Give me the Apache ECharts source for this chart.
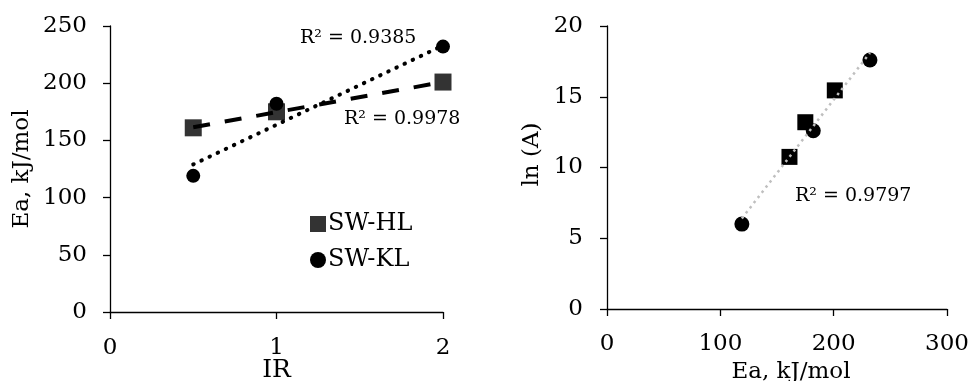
<!DOCTYPE html>
<html>
<head>
<meta charset="utf-8">
<script src="https://cdn.jsdelivr.net/npm/echarts@6/dist/echarts.min.js"></script>
<style>
  html, body { margin: 0; padding: 0; background: #fff; }
  #chart { width: 970px; height: 381px; }
</style>
</head>
<body>
<div id="chart"></div>
<script>
// left panel: Ea vs IR
const irValues = [0.5, 1, 2];
const eaHL = [161, 175, 201];
const eaKL = [119, 182, 232];
// trendline end points
const trendHL = [[0.5, 161.5], [2, 201]];
const trendKL = [[0.5, 129], [2, 233]];

// right panel: ln(A) vs Ea
const lnAHL = [10.75, 13.2, 15.45];
const lnAKL = [6.0, 12.6, 17.6];
const trendAll = [[119, 6.4], [232, 18.1]];

const r2Labels = ['R² = 0.9385', 'R² = 0.9978', 'R² = 0.9797'];

const FONT = 'DejaVu Serif';
const chart = echarts.init(document.getElementById('chart'));

const axisCommon = {
    axisLine: { show: true, lineStyle: { color: '#000', width: 1.3 } },
    axisTick: { show: true, length: 7, lineStyle: { color: '#000', width: 1.3 } },
    splitLine: { show: false },
    axisLabel: { color: '#000', fontFamily: FONT, fontSize: 23 },
    nameTextStyle: { color: '#000', fontFamily: FONT, fontSize: 23 },
    nameLocation: 'middle',
    nameMoveOverlap: false,
};

const option = {
    animation: false,
    textStyle: { fontFamily: FONT },
    grid: [
        { left: 110, top: 26, width: 333, height: 286, outerBoundsMode: 'none', containLabel: false },
        { left: 607, top: 26, width: 340, height: 283, outerBoundsMode: 'none', containLabel: false },
    ],
    xAxis: [
        { ...axisCommon, gridIndex: 0, type: 'value', min: 0, max: 2, interval: 1,
          name: 'IR', nameGap: 46, nameTextStyle: { ...axisCommon.nameTextStyle, fontSize: 25 },
          axisLabel: { ...axisCommon.axisLabel, margin: 25 } },
        { ...axisCommon, gridIndex: 1, type: 'value', min: 0, max: 300, interval: 100,
          name: 'Ea, kJ/mol', nameGap: 52, nameTextStyle: { ...axisCommon.nameTextStyle, padding: [0, 0, 0, 28] },
          axisLabel: { ...axisCommon.axisLabel, margin: 24 } },
    ],
    yAxis: [
        { ...axisCommon, gridIndex: 0, type: 'value', min: 0, max: 250, interval: 50,
          name: 'Ea, kJ/mol', nameGap: 76, axisLabel: { ...axisCommon.axisLabel, margin: 23 } },
        { ...axisCommon, gridIndex: 1, type: 'value', min: 0, max: 20, interval: 5,
          name: 'ln (A)', nameGap: 63, nameTextStyle: { ...axisCommon.nameTextStyle, padding: [0, 0, 0, 26] },
          axisLabel: { ...axisCommon.axisLabel, margin: 24 } },
    ],
    legend: {
        data: [
            { name: 'SW-HL', icon: 'rect', itemStyle: { color: '#333' } },
            { name: 'SW-KL', icon: 'circle', itemStyle: { color: '#000' } },
        ],
        orient: 'vertical',
        left: 305,
        top: 207,
        itemWidth: 16,
        itemHeight: 16,
        itemGap: 12,
        textStyle: { color: '#000', fontFamily: FONT, fontSize: 24, lineHeight: 24, padding: [0, 0, 0, -3] },
    },
    series: [
        {
            name: 'SW-HL', type: 'scatter', xAxisIndex: 0, yAxisIndex: 0,
            symbol: 'rect', symbolSize: 17, itemStyle: { color: '#333', opacity: 1 },
            data: irValues.map((x, i) => [x, eaHL[i]]),
        },
        {
            name: 'SW-KL', type: 'scatter', xAxisIndex: 0, yAxisIndex: 0,
            symbol: 'circle', symbolSize: 14, itemStyle: { color: '#000', opacity: 1 },
            data: irValues.map((x, i) => [x, eaKL[i]]),
        },
        {
            name: 'HL trend', type: 'line', xAxisIndex: 0, yAxisIndex: 0,
            showSymbol: false, symbol: 'none', silent: true,
            lineStyle: { color: '#000', width: 4, type: [17, 15] },
            data: trendHL,
        },
        {
            name: 'KL trend', type: 'line', xAxisIndex: 0, yAxisIndex: 0,
            showSymbol: false, symbol: 'none', silent: true,
            lineStyle: { color: '#000', width: 4, type: [0.5, 8.5], cap: 'round' },
            data: trendKL,
        },
        {
            name: 'KL2', type: 'scatter', xAxisIndex: 1, yAxisIndex: 1,
            symbol: 'circle', symbolSize: 15, itemStyle: { color: '#000', opacity: 1 },
            data: eaKL.map((x, i) => [x, lnAKL[i]]),
        },
        {
            name: 'HL2', type: 'scatter', xAxisIndex: 1, yAxisIndex: 1,
            symbol: 'rect', symbolSize: 16, itemStyle: { color: '#000', opacity: 1 },
            data: eaHL.map((x, i) => [x, lnAHL[i]]),
        },
        {
            name: 'All trend', type: 'line', xAxisIndex: 1, yAxisIndex: 1,
            showSymbol: false, symbol: 'none', silent: true,
            lineStyle: { color: '#bfbfbf', width: 2.5, type: [2.5, 4] },
            data: trendAll,
        },
    ],
    graphic: [
        { type: 'text', left: 300, top: 29, style: { text: r2Labels[0], font: '19px "DejaVu Serif"', fill: '#000' } },
        { type: 'text', left: 344, top: 110, style: { text: r2Labels[1], font: '19px "DejaVu Serif"', fill: '#000' } },
        { type: 'text', left: 795, top: 187, style: { text: r2Labels[2], font: '19px "DejaVu Serif"', fill: '#000' } },
    ],
};

chart.setOption(option);
</script>
</body>
</html>
